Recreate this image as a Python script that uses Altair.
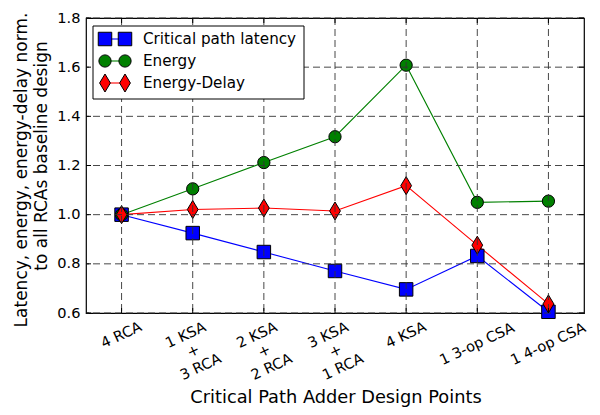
import altair as alt
import pandas as pd

categories = ["4 RCA", "1 KSA\n+\n3 RCA", "2 KSA\n+\n2 RCA", "3 KSA\n+\n1 RCA",
              "4 KSA", "1 3-op CSA", "1 4-op CSA"]
series_names = ["Critical path latency", "Energy", "Energy-Delay"]
latency = [1.0, 0.925, 0.848, 0.771, 0.696, 0.832, 0.605]
energy = [1.0, 1.105, 1.212, 1.317, 1.608, 1.050, 1.055]
energy_delay = [1.0, 1.021, 1.027, 1.015, 1.118, 0.876, 0.637]
y_ticks = [0.6, 0.8, 1.0, 1.2, 1.4, 1.6, 1.8]
y_title = ["Latency, energy, energy-delay norm.", "to all RCAs baseline design"]
x_title = "Critical Path Adder Design Points"

colors = ["#0000ff", "#008000", "#ff0000"]
diamond = "M0,-1L0.6,0L0,1L-0.6,0Z"
shapes = ["square", "circle", diamond]
sizes = [182, 150, 324]

W, H = 498, 295
FONT = "DejaVu Sans"

rows = []
for name, vals in zip(series_names, [latency, energy, energy_delay]):
    for c, v in zip(categories, vals):
        rows.append({"cat": c, "value": v, "series": name})
df = pd.DataFrame(rows)
cat_df = pd.DataFrame({"cat": categories})
ytick_df = pd.DataFrame({"value": y_ticks})
leg_df = pd.DataFrame({"series": series_names})
one_df = pd.DataFrame({"k": [0]})

xscale = alt.Scale(type="point", domain=categories, padding=0.5)
yscale = alt.Scale(domain=[0.6, 1.8], nice=False, zero=False)
color = alt.Color("series:N", scale=alt.Scale(domain=series_names, range=colors), legend=None)
fill = alt.Fill("series:N", scale=alt.Scale(domain=series_names, range=colors), legend=None)
shape = alt.Shape("series:N", scale=alt.Scale(domain=series_names, range=shapes), legend=None)
size = alt.Size("series:N", scale=alt.Scale(type="ordinal", domain=series_names, range=sizes), legend=None)

x_axis = alt.Axis(
    title=x_title, labels=False,
    ticks=False, domain=False, grid=False, titleFont=FONT, titleFontSize=17.8,
    titleFontWeight="normal", titleColor="black", titleX=W / 2 + 0.5, titleY=89,
    titleBaseline="alphabetic",
)
x_enc = alt.X("cat:N", scale=xscale, sort=categories, axis=x_axis)
y_enc = alt.Y(
    "value:Q", scale=yscale,
    axis=alt.Axis(
        title=None, values=y_ticks, format=".1f", labelFontSize=14.6, labelFont=FONT,
        labelColor="black", labelPadding=6, ticks=False, domain=False, grid=False,
    ),
)
y_plain = alt.Y("value:Q", scale=yscale, axis=None)

lines = alt.Chart(df).mark_line(strokeWidth=1.1).encode(
    x=x_enc, y=y_enc, color=color, detail="series:N")
points = alt.Chart(df).mark_point(filled=True, stroke="black", strokeWidth=1, opacity=1).encode(
    x=x_enc, y=y_plain, fill=fill, shape=shape, size=size)

dash = [7, 4]
grid_x = alt.Chart(cat_df).mark_rule(color="#333", strokeWidth=0.9, strokeDash=dash).encode(x=x_enc)
grid_y = alt.Chart(ytick_df).mark_rule(color="#333", strokeWidth=0.9, strokeDash=dash).encode(y=y_plain)
tick_l = alt.Chart(ytick_df).mark_rule(color="black").encode(y=y_plain, x=alt.value(0), x2=alt.value(5))
tick_r = alt.Chart(ytick_df).mark_rule(color="black").encode(y=y_plain, x=alt.value(W - 5), x2=alt.value(W))
tick_b = alt.Chart(cat_df).mark_rule(color="black").encode(x=x_enc, y=alt.value(H - 5), y2=alt.value(H))
tick_t = alt.Chart(cat_df).mark_rule(color="black").encode(x=x_enc, y=alt.value(0), y2=alt.value(5))

# rotated category labels, centred under each tick like matplotlib
lab_kw = dict(angle=335, align="center", lineBreak="\n", lineHeight=17.5,
              fontSize=14.5, font=FONT, color="black")
is_multi = "indexof(datum.cat, '\\n') >= 0"
lab_short = alt.Chart(cat_df).transform_filter(
    f"!({is_multi}) && length(datum.cat) <= 6").mark_text(baseline="middle", **lab_kw).encode(
    x=x_enc, y=alt.value(H + 22.5), text="cat:N")
lab_long = alt.Chart(cat_df).transform_filter(
    f"!({is_multi}) && length(datum.cat) > 6").mark_text(baseline="middle", **lab_kw).encode(
    x=x_enc, y=alt.value(H + 31.5), text="cat:N")
lab_multi = alt.Chart(cat_df).transform_filter(is_multi).mark_text(
    baseline="top", dx=-8.7, dy=-4.1, **lab_kw).encode(
    x=x_enc, y=alt.value(H + 16.4), text="cat:N")

# two-line y title (lines centred as in the reference)
ttl_kw = dict(angle=270, align="center", baseline="middle", fontSize=17, font=FONT, color="black")
ytitle1 = alt.Chart(one_df).mark_text(text=y_title[0], **ttl_kw).encode(
    x=alt.value(-64), y=alt.value(152))
ytitle2 = alt.Chart(one_df).mark_text(text=y_title[1], **ttl_kw).encode(
    x=alt.value(-44.5), y=alt.value(138))

box = alt.Chart(one_df).mark_rect(fill="white", stroke="black", strokeWidth=1).encode(
    x=alt.value(7), x2=alt.value(218), y=alt.value(8), y2=alt.value(81))
leg_y = alt.Y("series:N", scale=alt.Scale(type="point", domain=series_names, range=[21, 65], padding=0), axis=None)
leg_line = alt.Chart(leg_df).mark_rule(strokeWidth=1.1).encode(
    y=leg_y, x=alt.value(19), x2=alt.value(39), color=color)
leg_p1 = alt.Chart(leg_df).mark_point(filled=True, stroke="black", strokeWidth=1, opacity=1).encode(
    y=leg_y, x=alt.value(19), fill=fill, shape=shape, size=size)
leg_p2 = alt.Chart(leg_df).mark_point(filled=True, stroke="black", strokeWidth=1, opacity=1).encode(
    y=leg_y, x=alt.value(39), fill=fill, shape=shape, size=size)
leg_text = alt.Chart(leg_df).mark_text(align="left", baseline="middle", fontSize=15.2, font=FONT, color="black").encode(
    y=leg_y, x=alt.value(57), text="series:N")

chart = alt.layer(
    lines, points, grid_x, grid_y, tick_l, tick_r, tick_b, tick_t,
    lab_short, lab_long, lab_multi, ytitle1, ytitle2,
    box, leg_line, leg_p1, leg_p2, leg_text,
).resolve_scale(y="independent").properties(
    width=W, height=H,
    autosize=alt.AutoSizeParams(type="none"),
    padding={"left": 78, "top": 10, "right": 8, "bottom": 94},
).configure_view(stroke="black", strokeWidth=1.2)

chart.save("out.html", embed_options={"renderer": "svg", "actions": False})
